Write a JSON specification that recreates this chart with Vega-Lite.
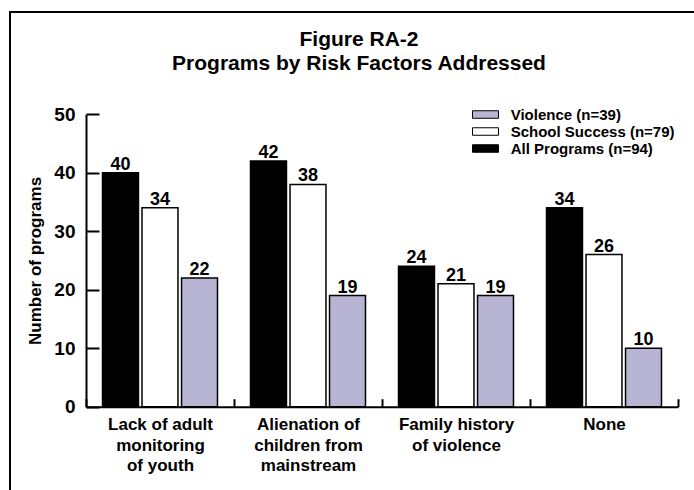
{
  "$schema": "https://vega.github.io/schema/vega-lite/v6.json",
  "width": 690,
  "height": 484,
  "autosize": {"type": "none"},
  "padding": {"left": 10, "top": 12, "right": 0, "bottom": 0},
  "background": "white",
  "title": {
    "text": ["Figure RA-2", "Programs by Risk Factors Addressed"],
    "anchor": "middle",
    "frame": "group",
    "offset": -62,
    "dx": 4,
    "font": "Liberation Sans",
    "fontSize": 21,
    "fontWeight": "bold",
    "lineHeight": 24,
    "color": "black"
  },
  "config": {
    "view": {"stroke": "black", "strokeWidth": 2},
    "font": "Liberation Sans"
  },
  "data": {
    "values": [
      {"category": "Lack of adult monitoring of youth", "series": "All Programs (n=94)", "value": 40},
      {"category": "Lack of adult monitoring of youth", "series": "School Success (n=79)", "value": 34},
      {"category": "Lack of adult monitoring of youth", "series": "Violence (n=39)", "value": 22},
      {"category": "Alienation of children from mainstream", "series": "All Programs (n=94)", "value": 42},
      {"category": "Alienation of children from mainstream", "series": "School Success (n=79)", "value": 38},
      {"category": "Alienation of children from mainstream", "series": "Violence (n=39)", "value": 19},
      {"category": "Family history of violence", "series": "All Programs (n=94)", "value": 24},
      {"category": "Family history of violence", "series": "School Success (n=79)", "value": 21},
      {"category": "Family history of violence", "series": "Violence (n=39)", "value": 19},
      {"category": "None", "series": "All Programs (n=94)", "value": 34},
      {"category": "None", "series": "School Success (n=79)", "value": 26},
      {"category": "None", "series": "Violence (n=39)", "value": 10}
    ]
  },
  "encoding": {
    "x": {
      "field": "category",
      "type": "nominal",
      "sort": null,
      "scale": {"range": [76, 668], "paddingInner": 0, "paddingOuter": 0},
      "axis": {
        "title": null,
        "offset": -89.3,
        "labelAngle": 0,
        "labelExpr": "datum.value == 'Lack of adult monitoring of youth' ? ['Lack of adult', 'monitoring', 'of youth'] : datum.value == 'Alienation of children from mainstream' ? ['Alienation of', 'children from', 'mainstream'] : datum.value == 'Family history of violence' ? ['Family history', 'of violence'] : datum.value",
        "labelFont": "Liberation Sans",
        "labelFontSize": 17,
        "labelFontWeight": "bold",
        "labelColor": "black",
        "labelLineHeight": 20.5,
        "labelPadding": 18,
        "labelLimit": 300,
        "tickBand": "extent",
        "tickSize": -8,
        "tickWidth": 2,
        "tickColor": "black",
        "domainColor": "black",
        "domainWidth": 2
      }
    },
    "xOffset": {
      "field": "series",
      "type": "nominal",
      "sort": ["All Programs (n=94)", "School Success (n=79)", "Violence (n=39)"],
      "scale": {"paddingInner": 0.09, "paddingOuter": 0.418}
    },
    "y": {
      "field": "value",
      "type": "quantitative",
      "scale": {"domain": [0, 50], "range": [394.7, 102.2], "nice": false},
      "axis": {
        "title": "Number of programs",
        "titleFont": "Liberation Sans",
        "titleFontSize": 17,
        "titleFontWeight": "bold",
        "titleColor": "black",
        "titlePadding": 9,
        "offset": -76,
        "values": [0, 10, 20, 30, 40, 50],
        "labelFont": "Liberation Sans",
        "labelFontSize": 19,
        "labelFontWeight": "bold",
        "labelColor": "black",
        "labelPadding": 24,
        "tickSize": -13,
        "tickWidth": 2,
        "tickColor": "black",
        "domainColor": "black",
        "domainWidth": 2,
        "grid": false
      }
    }
  },
  "layer": [
    {
      "mark": {"type": "bar", "stroke": "black", "strokeWidth": 1.5},
      "encoding": {
        "color": {
          "field": "series",
          "type": "nominal",
          "scale": {
            "domain": ["All Programs (n=94)", "School Success (n=79)", "Violence (n=39)"],
            "range": ["#000000", "#ffffff", "#b8b4d4"]
          },
          "legend": {
            "title": null,
            "orient": "none",
            "legendX": 468,
            "legendY": 95,
            "values": ["Violence (n=39)", "School Success (n=79)", "All Programs (n=94)"],
            "symbolType": "M-2.6,-0.75L2.6,-0.75L2.6,0.75L-2.6,0.75Z",
            "symbolSize": 100,
            "symbolStrokeColor": "black",
            "symbolStrokeWidth": 1,
            "labelFont": "Liberation Sans",
            "labelFontSize": 15,
            "labelFontWeight": "bold",
            "labelColor": "black",
            "labelOffset": 17.7,
            "labelLimit": 300,
            "rowPadding": 1,
            "padding": 0
          }
        }
      }
    },
    {
      "mark": {"type": "text", "dy": -3, "baseline": "alphabetic", "font": "Liberation Sans", "fontSize": 18, "fontWeight": "bold", "color": "black"},
      "encoding": {
        "text": {"field": "value", "type": "quantitative"}
      }
    }
  ]
}
